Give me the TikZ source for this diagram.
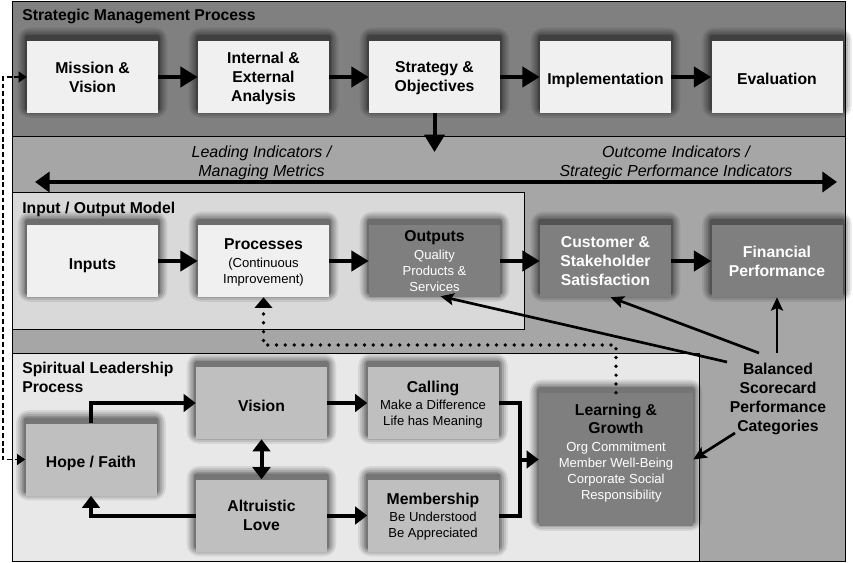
\documentclass[tikz,border=0pt]{standalone}
\usepackage{fontspec}
\setmainfont{Liberation Sans}
\usetikzlibrary{arrows.meta,calc}
\pgfdeclarelayer{bg}
\pgfdeclarelayer{shd}
\pgfsetlayers{bg,shd,main}
\definecolor{cdark}{HTML}{808080}
\definecolor{cmid}{HTML}{A6A6A6}
\definecolor{cio}{HTML}{D9D9D9}
\definecolor{csp}{HTML}{E8E8E8}
\definecolor{clight}{HTML}{F0F0F0}
\definecolor{cbox}{HTML}{BFBFBF}
\definecolor{cboxd}{HTML}{7F7F7F}
\newcommand\bt{\fontsize{11.8}{14.25}\selectfont\bfseries}
\newcommand\smf{\fontsize{9.8}{12}\selectfont}
\begin{document}
\begin{tikzpicture}[x=0.75pt,y=-0.75pt,
  bigf/.style={font=\bt},
  box/.style={minimum width=98.25pt,minimum height=54pt,inner sep=1pt,align=center,bigf,
    text depth=0pt,execute at begin node={\rule{0pt}{12pt}}},
  lbox/.style={box,fill=clight},
  gbox/.style={box,fill=cbox},
  dbox/.style={box,fill=cboxd},
  mixed/.style={font=\smf},
  arr/.style={line width=3pt,-{Triangle[length=13pt,width=15pt]}},
  sarr/.style={line width=3pt,-{Triangle[length=9pt,width=13pt]}},
  darr/.style={line width=3pt,{Triangle[length=9pt,width=13pt]}-{Triangle[length=9pt,width=13pt]}},
  harr/.style={line width=3pt,{Triangle[length=11pt,width=15pt]}-{Triangle[length=11pt,width=15pt]}},
  barr/.style={line width=2pt,-{Stealth[length=10pt,width=9pt,inset=2pt]}},
  dotl/.style={line width=2.8pt,line cap=round,dash pattern=on 0pt off 6.6pt,-{Triangle[length=8pt,width=13pt]}},
  dashl/.style={line width=1.2pt,dash pattern=on 3.5pt off 2.2pt,{Triangle[length=6pt,width=8pt]}-{Triangle[length=6pt,width=8pt]}},
  ttl/.style={bigf,inner sep=0pt},
  ital/.style={font=\fontsize{12}{13.8}\selectfont\itshape,align=center,inner sep=0pt}
]
\useasboundingbox (0,0) rectangle (853,563);

\begin{pgfonlayer}{bg}
  \fill[cmid] (12,2) rectangle (845,561);
  \fill[cdark] (12,2) rectangle (845,137);
  \draw[line width=0.75pt] (12,137) -- (845,137);
  \filldraw[fill=cio,line width=0.75pt] (12,193) rectangle (524,329);
  \filldraw[fill=csp,line width=0.75pt] (12,353) rectangle (699,561);
  \draw[line width=0.75pt] (12,2) rectangle (845,561);
\end{pgfonlayer}

% titles
\node[ttl,anchor=base west] (tsm) at (22,21) {Strategic Management Process};
\node[ttl,anchor=base west] (tio) at (22,214) {Input / Output Model};
\node[ttl,anchor=north west,align=left] (tsl) at (22,362) {Spiritual Leadership\\Process};

% top row
\node[lbox] (mission) at (92.5,77) {Mission \&\\Vision};
\node[lbox] (analysis) at (263.5,77) {Internal \&\\External\\Analysis};
\node[lbox] (strategy) at (434.5,77) {Strategy \&\\Objectives};
\node[lbox] (impl) at (605.5,77) {Implementation};
\node[lbox] (eval) at (777,77) {Evaluation};

% indicators
\node[ital,anchor=north] (lead) at (261.5,146) {Leading Indicators /\\Managing Metrics};
\node[ital,anchor=north] (outc) at (676,146) {Outcome Indicators /\\Strategic Performance Indicators};

% I/O row
\node[lbox] (inputs) at (92.5,261) {Inputs};
\node[lbox,mixed] (proc) at (263.5,261) {{\bt Processes}\\[1pt](Continuous\\Improvement)};
\node[dbox,mixed] (outputs) at (434.5,261) {{\bt Outputs}\\[1pt]\textcolor{white}{Quality}\\\textcolor{white}{Products \&}\\\textcolor{white}{Services}};
\node[dbox,text=white] (cust) at (605.5,261) {Customer \&\\Stakeholder\\Satisfaction};
\node[dbox,text=white] (fin) at (777,261) {Financial\\Performance};

% spiritual
\node[gbox] (hope) at (91,459.5) {Hope / Faith};
\node[gbox] (vision) at (261.5,403) {Vision};
\node[gbox] (alt) at (261.5,515.5) {Altruistic\\Love};
\node[gbox,mixed] (calling) at (433,403) {{\bt Calling}\\[1pt]Make a Difference\\Life has Meaning};
\node[gbox,mixed] (member) at (433,515.5) {{\bt Membership}\\[1pt]Be Understood\\Be Appreciated};
\node[dbox,mixed,minimum width=115.5pt,minimum height=99.75pt,execute at begin node={}] (learn) at (616,459.5)
  {{\bt Learning \&}\\[2pt]{\bt Growth}\\[1pt]\textcolor{white}{Org Commitment}\\\textcolor{white}{Member Well-Being}\\\textcolor{white}{Corporate Social}\\\hspace*{8pt}\textcolor{white}{Responsibility}\\\mbox{}};

\node[ttl,align=center,anchor=north] (bsc) at (778,363) {Balanced\\Scorecard\\Performance\\Categories};

% shadows
\begin{pgfonlayer}{shd}
\foreach \n in {mission,analysis,strategy,impl,eval,inputs,proc,outputs,cust,fin,hope,vision,alt,calling,member,learn}{
  \foreach \k/\o in {9/0.08,7/0.1,5/0.12,3/0.14,1.5/0.18}{
    \fill[black,opacity=\o,rounded corners=\k pt] ($(\n.north west)+(-\k,-\k-4)$) rectangle ($(\n.south east)+(\k,\k-4.5)$);
  }
}
\end{pgfonlayer}

% top arrows
\draw[arr] (mission) -- (analysis);
\draw[arr] (analysis) -- (strategy);
\draw[arr] (strategy) -- (impl);
\draw[arr] (impl) -- (eval);
\coordinate (sdown) at (434.5,152);
\draw[arr] (strategy.south) -- (sdown);

% indicator arrow
\coordinate (hl) at (35,182);
\coordinate (hr) at (837,182);
\draw[harr] (hl) -- (hr);

% I/O arrows
\draw[arr] (inputs) -- (proc);
\draw[arr] (proc) -- (outputs);
\draw[arr] (outputs) -- (cust);
\draw[arr] (cust) -- (fin);

% spiritual arrows
\draw[sarr] (hope.north) |- (vision.west);
\draw[sarr] (alt.west) -| (hope.south);
\draw[darr] (vision.south) -- (alt.north);
\draw[sarr] (vision) -- (calling);
\draw[sarr] (alt) -- (member);
\coordinate (jn) at (520,459.5);
\draw[line width=3pt] (calling.east) -| (jn) |- (member.east);
\draw[sarr] (jn) -- (learn.west);

% dotted feedback
\coordinate (dc) at (616,345);
\draw[dotl] (learn.north) -- (dc) -| (proc.south);

% dashed loop
\coordinate (dl) at (3,77);
\draw[dashl] (mission.west) -- (dl) |- (hope.west);

% balanced scorecard arrows
\coordinate (b1) at (727,362);
\coordinate (b2) at (759,353);
\coordinate (b3) at (777,353);
\coordinate (b4) at (735,433);
\draw[barr] (b1) -- ($(outputs.south)+(6,-1)$);
\draw[barr] (b2) -- ($(cust.south)+(5,0)$);
\draw[barr] (b3) -- (fin.south);
\draw[barr] (b4) -- (learn.east);
\end{tikzpicture}
\end{document}
